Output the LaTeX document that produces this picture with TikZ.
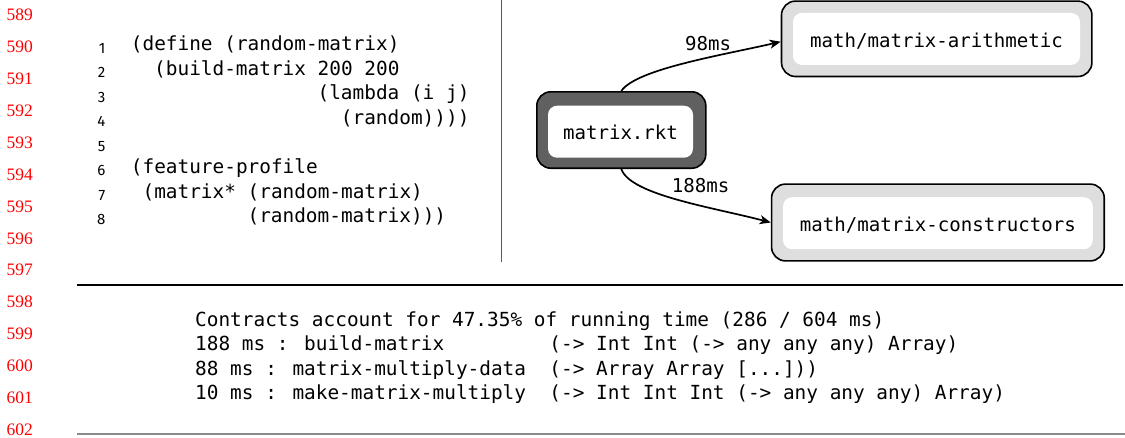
\documentclass[tikz,border=0pt]{standalone}
\usepackage{fontspec}
\usetikzlibrary{arrows.meta}
\newfontfamily\graphfont{DejaVu Sans Mono}
\newfontfamily\lnfont{Fira Sans}
\newfontfamily\marginfont{Liberation Serif}
\definecolor{boxdark}{HTML}{606060}
\definecolor{boxlight}{HTML}{DEDEDE}
\definecolor{rulegray}{HTML}{8A8A8A}
\definecolor{sepgray}{HTML}{5A5A5A}

\begin{document}
\begin{tikzpicture}[x=1pt,y=-1pt,
  outerbox/.style={draw=black, line width=1.6pt, rounded corners=14pt, inner sep=0pt},
  darkbox/.style={outerbox, fill=boxdark},
  lightbox/.style={outerbox, fill=boxlight},
  innerbox/.style={fill=white, rounded corners=9pt, inner sep=0pt, minimum height=52pt,
    text height=16.4pt, text depth=0pt, font=\graphfont\fontsize{19.1}{23}\selectfont},
  edge/.style={line width=1.7pt, -{Stealth[length=11pt,width=9pt,inset=3pt]}},
  edgelabel/.style={font=\graphfont\fontsize{19.1}{23}\selectfont, inner sep=0pt, anchor=base west},
  code/.style={font=\graphfont\fontsize{19.4}{23}\selectfont, inner sep=0pt, anchor=base west},
  codenum/.style={font=\lnfont\fontsize{15}{18}\selectfont, inner sep=0pt, anchor=base east},
  marginnum/.style={font=\marginfont\fontsize{17.5}{20}\selectfont, text=red, inner sep=0pt, anchor=base west},
  report/.style={font=\graphfont\fontsize{19.4}{23}\selectfont, inner sep=0pt, anchor=base west},
]
\useasboundingbox (0,0) rectangle (1125,437);

% margin line numbers
\foreach \n [count=\i from 0] in {589,...,602}
  \node[marginnum] (m\n) at (6.5, {20.7+31.9*\i}) {\n};

% listing line numbers
\foreach \k in {1,...,8}
  \node[codenum] (ln\k) at (105.5, {53.3+24.5*(\k-1)}) {\k};

% listing
\node[code] (c1) at (130.7, 50.7) {(define (random-matrix)};
\node[code] (c2) at ({130.7+2*11.67}, 75.2) {(build-matrix 200 200};
\node[code] (c3) at ({130.7+16*11.67}, 99.7) {(lambda (i j)};
\node[code] (c4) at ({130.7+18*11.67}, 124.2) {(random))))};
\node[code] (c6) at (130.7, 173.2) {(feature-profile};
\node[code] (c7) at ({130.7+11.67}, 198.5) {(matrix* (random-matrix)};
\node[code] (c8) at ({130.7+10*11.67}, 222.2) {(random-matrix)))};

% separator between listing and graph
\coordinate (septop) at (501.7,0);
\coordinate (sepbot) at (501.7,262);
\draw[sepgray, line width=1.3pt] (septop) -- (sepbot);

% module graph
\node[darkbox, minimum width=169pt, minimum height=76.4pt] (rktbox) at (621.3,130) {};
\node[innerbox, minimum width=145pt] (rkt) at (620.5,131.7) {matrix.rkt};
\node[lightbox, minimum width=310.4pt, minimum height=75.4pt] (arithbox) at (936.7,38.8) {};
\node[innerbox, minimum width=287pt] (arith) at (936.5,38.9) {math/matrix-arithmetic};
\node[lightbox, minimum width=332.7pt, minimum height=76.8pt] (consbox) at (937.9,222.5) {};
\node[innerbox, minimum width=309.7pt] (cons) at (937.9,223.2) {math/matrix-constructors};

\draw[edge] (rktbox.north) .. controls +(15,-22) and +(-58.5,13.5) .. ([yshift=-2.9pt]arithbox.west);
\draw[edge] (rktbox.south) .. controls +(9,26) and +(-58,-15.2) .. (consbox.west);
\node[edgelabel] (l98) at (685,50) {98ms};
\node[edgelabel] (l188) at (671.7,192) {188ms};

% rules around the profiler report
\coordinate (r1a) at (77,285);
\coordinate (r1b) at (1123,285);
\draw[line width=1.2pt] (r1a) -- (r1b);
\coordinate (r2a) at (77,434);
\coordinate (r2b) at (1125,434);
\draw[rulegray, line width=1.2pt] (r2a) -- (r2b);

% profiler report
\node[report] (rep1) at (195,326.7) {Contracts account for 47.35\% of running time (286 / 604 ms)};
\node[report] (rep2) at (195,350.9) {188 ms : build-matrix~~~~~~~~~(-> Int Int (-> any any any) Array)};
\node[report] (rep3) at (195,375.1) {88 ms : matrix-multiply-data~~(-> Array Array [...]))};
\node[report] (rep4) at (195,399.3) {10 ms : make-matrix-multiply~~(-> Int Int Int (-> any any any) Array)};
\end{tikzpicture}
\end{document}
